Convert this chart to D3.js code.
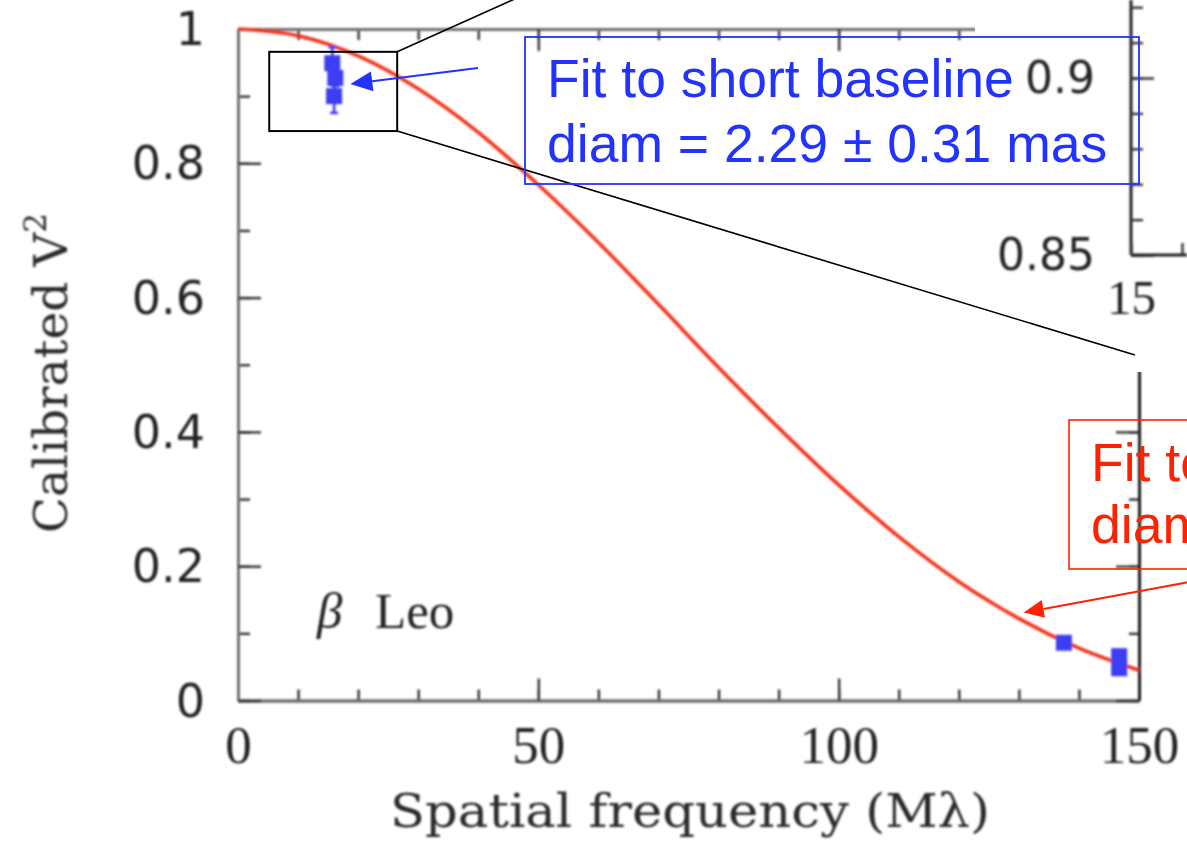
<!DOCTYPE html>
<html>
<head>
<meta charset="utf-8">
<script src="https://cdn.jsdelivr.net/npm/d3@7"></script>
<style>
  html, body { margin: 0; padding: 0; background: #fff; overflow: hidden; }
  svg { display: block; }
</style>
</head>
<body>
<svg id="chart" width="1187" height="841"></svg>
<script>
// Uniform-disk fit to the β Leo visibilities, sampled every 10 Mλ
const fitFreq = [0, 10, 20, 30, 40, 50, 60, 70, 80, 90, 100, 110, 120, 130, 140, 150];
const fitV2   = [1.000, 0.990, 0.960, 0.911, 0.846, 0.768, 0.682, 0.590, 0.496, 0.406, 0.321, 0.244, 0.177, 0.122, 0.078, 0.045];

// Calibrated V² measurements, short baselines
const shortFreq = [15.7, 16.2, 16.0];
const shortV2   = [0.949, 0.927, 0.900];
const shortErr  = [0.024, 0.012, 0.025];

// Calibrated V² measurements, long baselines
const longFreq = [137.5, 146.7, 146.7];
const longV2   = [0.086, 0.066, 0.048];

// Axis ticks and labels
const xMajorTicks = [0, 50, 100, 150];
const xTickLabels = ["0", "50", "100", "150"];
const xMinorTicks = d3.range(0, 151, 10);
const yMajorTicks = [0, 0.2, 0.4, 0.6, 0.8, 1];
const yTickLabels = ["0", "0.2", "0.4", "0.6", "0.8", "1"];
const yMinorTicks = d3.range(0, 11).map(i => i / 10);

// Zoomed inset (short-baseline region)
const zoomFreq = [5.2, 26.5];
const zoomV2   = [0.848, 0.966];
const insetYTicks  = [0.85, 0.9];
const insetYLabels = ["0.85", "0.9"];
const insetYMinor  = d3.range(85, 94).map(i => i / 100);
const insetXTicks  = [15];
const insetXLabels = ["15"];
const insetXMinor  = [15, 15.2];

// Annotation texts
const shortFitText = ["Fit to short baseline", "diam = 2.29 \u00b1 0.31 mas"];
const longFitText  = ["Fit to long baseline", "diam = 1.33 mas"];

const svg = d3.select("#chart");

const defs = svg.append("defs");
defs.append("filter").attr("id", "soft")
  .attr("x", "-5%").attr("y", "-5%").attr("width", "110%").attr("height", "110%")
  .append("feGaussianBlur").attr("stdDeviation", 0.8);

// Scales of the main panel
const x = d3.scaleLinear().domain([0, 150]).range([238, 1139]);
const y = d3.scaleLinear().domain([0, 1]).range([700.5, 29]);

const AXIS_GREY = "#6f6f6f";
const TICK_COL = "#333";

const plot = svg.append("g").attr("filter", "url(#soft)");

function styleAxis(g, domainColor) {
  g.select(".domain").attr("stroke", domainColor).attr("stroke-width", 3);
  g.selectAll(".tick line").attr("stroke", TICK_COL).attr("stroke-width", 2.4);
}

// bottom axis: minor ticks, then major ticks with labels
plot.append("g").attr("transform", `translate(0,${y(0)})`)
  .call(d3.axisBottom(x).tickValues(xMinorTicks).tickSizeInner(-11).tickSizeOuter(0).tickFormat(""))
  .call(g => styleAxis(g, AXIS_GREY));
const xAxisG = plot.append("g").attr("transform", `translate(0,${y(0)})`)
  .call(d3.axisBottom(x).tickValues(xMajorTicks).tickSizeInner(-22).tickSizeOuter(0)
    .tickPadding(25).tickFormat((d, i) => xTickLabels[i]))
  .call(g => styleAxis(g, AXIS_GREY));
xAxisG.selectAll(".tick text")
  .attr("font-family", "'Liberation Serif', serif").attr("font-size", 53).attr("fill", "#222");

// top axis
plot.append("g").attr("transform", `translate(0,${y(1)})`)
  .call(d3.axisTop(x).tickValues(xMinorTicks).tickSizeInner(-11).tickSizeOuter(0).tickFormat(""))
  .call(g => styleAxis(g, AXIS_GREY));
plot.append("g").attr("transform", `translate(0,${y(1)})`)
  .call(d3.axisTop(x).tickValues(xMajorTicks).tickSizeInner(-22).tickSizeOuter(0).tickFormat(""))
  .call(g => styleAxis(g, AXIS_GREY));

// left axis
plot.append("g").attr("transform", `translate(${x(0)},0)`)
  .call(d3.axisLeft(y).tickValues(yMinorTicks).tickSizeInner(-12).tickSizeOuter(0).tickFormat(""))
  .call(g => styleAxis(g, AXIS_GREY));
const yAxisG = plot.append("g").attr("transform", `translate(${x(0)},0)`)
  .call(d3.axisLeft(y).tickValues(yMajorTicks).tickSizeInner(-23).tickSizeOuter(0)
    .tickPadding(33).tickFormat((d, i) => yTickLabels[i]))
  .call(g => styleAxis(g, AXIS_GREY));
yAxisG.selectAll(".tick text")
  .attr("font-family", "'DejaVu Sans', sans-serif").attr("font-size", 46).attr("fill", "#222")
  .attr("dy", "0.34em");

// right axis
plot.append("g").attr("transform", `translate(${x(150)},0)`)
  .call(d3.axisRight(y).tickValues(yMinorTicks).tickSizeInner(-10).tickSizeOuter(0).tickFormat(""))
  .call(g => styleAxis(g, "#1e1e1e"));
plot.append("g").attr("transform", `translate(${x(150)},0)`)
  .call(d3.axisRight(y).tickValues(yMajorTicks).tickSizeInner(-23).tickSizeOuter(0).tickFormat(""))
  .call(g => styleAxis(g, "#1e1e1e"));

// axis titles
plot.append("text")
  .attr("x", 690).attr("y", 827).attr("text-anchor", "middle")
  .attr("font-family", "'DejaVu Serif', serif").attr("font-size", 46).attr("fill", "#2a2a2a")
  .attr("textLength", 600).attr("lengthAdjust", "spacingAndGlyphs")
  .text("Spatial frequency (M\u03bb)");

const yTitle = plot.append("text")
  .attr("transform", "translate(67,373) rotate(-90)").attr("text-anchor", "middle")
  .attr("font-family", "'DejaVu Serif', serif").attr("font-size", 47).attr("fill", "#2a2a2a");
yTitle.append("tspan").text("Calibrated V");
yTitle.append("tspan").attr("font-size", 31).attr("dy", -21).text("2");

// star name
const starLabel = plot.append("text").attr("y", 628)
  .attr("font-family", "'Liberation Serif', serif").attr("font-size", 51).attr("fill", "#222");
starLabel.append("tspan").attr("x", 317).attr("font-style", "italic").text("\u03b2");
starLabel.append("tspan").attr("x", 375).text("Leo");

// fit curve
const fitData = fitFreq.map((f, i) => ({ f, v: fitV2[i] }));
plot.append("path").datum(fitData)
  .attr("fill", "none").attr("stroke", "#f2321c").attr("stroke-width", 3.6)
  .attr("d", d3.line().x(d => x(d.f)).y(d => y(d.v)).curve(d3.curveMonotoneX));

// measurements
const BLUE_PT = "#3d3cf2";
const SQ = 16;
const shortData = shortFreq.map((f, i) => ({ f, v: shortV2[i], e: shortErr[i] }));
const longData = longFreq.map((f, i) => ({ f, v: longV2[i] }));

const errG = plot.append("g").attr("stroke", BLUE_PT).attr("stroke-width", 2.6);
errG.selectAll("line.bar").data(shortData).join("line").attr("class", "bar")
  .attr("x1", d => x(d.f)).attr("x2", d => x(d.f))
  .attr("y1", d => y(d.v - d.e)).attr("y2", d => y(d.v + d.e));
errG.selectAll("line.capT").data(shortData).join("line").attr("class", "capT")
  .attr("x1", d => x(d.f) - 4).attr("x2", d => x(d.f) + 4)
  .attr("y1", d => y(d.v + d.e)).attr("y2", d => y(d.v + d.e));
errG.selectAll("line.capB").data(shortData).join("line").attr("class", "capB")
  .attr("x1", d => x(d.f) - 4).attr("x2", d => x(d.f) + 4)
  .attr("y1", d => y(d.v - d.e)).attr("y2", d => y(d.v - d.e));

plot.append("g").attr("fill", BLUE_PT)
  .selectAll("rect").data(shortData.concat(longData)).join("rect")
  .attr("x", d => x(d.f) - SQ / 2).attr("y", d => y(d.v) - SQ / 2)
  .attr("width", SQ).attr("height", SQ);

// inset panel (zoom of the short-baseline region)
const insetLeft = 1135, insetTop = -280, insetBottom = 355;
svg.append("rect").attr("x", 975).attr("y", 0).attr("width", 212).attr("height", 372).attr("fill", "#fff");

const ix = d3.scaleLinear().domain([15, 15.2]).range([1131, 1182]);
const iy = d3.scaleLinear().domain([0.85, 0.9]).range([255, 78]);
const inset = svg.append("g").attr("filter", "url(#soft)");
inset.append("g").attr("transform", `translate(${ix(15)},0)`)
  .call(d3.axisLeft(iy).tickValues(insetYMinor).tickSizeInner(-12).tickSizeOuter(0).tickFormat(""))
  .call(g => g.select(".domain").attr("d", `M0,0V${iy(0.85)}`))
  .call(g => styleAxis(g, "#1e1e1e"));
const iyAxis = inset.append("g").attr("transform", `translate(${ix(15)},0)`)
  .call(d3.axisLeft(iy).tickValues(insetYTicks).tickSizeInner(-23).tickSizeOuter(0)
    .tickPadding(36).tickFormat((d, i) => insetYLabels[i]))
  .call(g => g.select(".domain").remove())
  .call(g => styleAxis(g, "#1e1e1e"));
iyAxis.selectAll(".tick text")
  .attr("font-family", "'DejaVu Sans', sans-serif").attr("font-size", 44).attr("fill", "#222").attr("dy", "0.34em");
inset.append("g").attr("transform", `translate(0,${iy(0.85)})`)
  .call(d3.axisBottom(ix).tickValues(insetXMinor).tickSizeInner(-12).tickSizeOuter(0).tickFormat(""))
  .call(g => g.select(".domain").attr("d", `M${ix(15)},0H1187`))
  .call(g => styleAxis(g, "#1e1e1e"));
const ixAxis = inset.append("g").attr("transform", `translate(0,${iy(0.85)})`)
  .call(d3.axisBottom(ix).tickValues(insetXTicks).tickSize(0).tickPadding(24)
    .tickFormat((d, i) => insetXLabels[i]))
  .call(g => g.select(".domain").remove());
ixAxis.selectAll(".tick text")
  .attr("font-family", "'Liberation Serif', serif").attr("font-size", 49).attr("fill", "#222");

// zoom box and connector lines
const zx0 = x(zoomFreq[0]), zx1 = x(zoomFreq[1]);
const zy0 = y(zoomV2[1]), zy1 = y(zoomV2[0]);
const over = svg.append("g");
over.append("rect").attr("x", zx0).attr("y", zy0).attr("width", zx1 - zx0).attr("height", zy1 - zy0)
  .attr("fill", "none").attr("stroke", "#000").attr("stroke-width", 2);
over.append("line").attr("x1", zx1).attr("y1", zy0).attr("x2", insetLeft).attr("y2", insetTop)
  .attr("stroke", "#000").attr("stroke-width", 1.6);
over.append("line").attr("x1", zx1).attr("y1", zy1).attr("x2", insetLeft).attr("y2", insetBottom)
  .attr("stroke", "#000").attr("stroke-width", 1.6);

// arrow helper
function arrow(g, x0, y0, x1, y1, color, headLen, headW, width) {
  const ang = Math.atan2(y1 - y0, x1 - x0);
  const bx = x1 - headLen * Math.cos(ang), by = y1 - headLen * Math.sin(ang);
  g.append("line").attr("x1", x0).attr("y1", y0).attr("x2", bx).attr("y2", by)
    .attr("stroke", color).attr("stroke-width", width);
  const px = -Math.sin(ang) * headW / 2, py = Math.cos(ang) * headW / 2;
  g.append("path")
    .attr("d", `M${x1},${y1}L${bx + px},${by + py}L${bx - px},${by - py}Z`)
    .attr("fill", color);
}

// short-baseline annotation
const BLUE_TXT = "#2233ff";
over.append("rect").attr("x", 525).attr("y", 37).attr("width", 614).attr("height", 147)
  .attr("fill", "none").attr("stroke", BLUE_TXT).attr("stroke-width", 1.8);
over.append("g").selectAll("text").data(shortFitText).join("text")
  .attr("x", 547).attr("y", (d, i) => 97 + i * 65)
  .attr("font-family", "'Liberation Sans', Arial, sans-serif").attr("font-size", 53.5)
  .attr("fill", BLUE_TXT).text(d => d);
arrow(over, 478, 68, x(18.7), y(0.918), BLUE_TXT, 22, 20, 2);

// long-baseline annotation (continues past the right edge of the page)
const RED_TXT = "#ff2200";
over.append("rect").attr("x", 1069).attr("y", 420).attr("width", 160).attr("height", 149)
  .attr("fill", "none").attr("stroke", RED_TXT).attr("stroke-width", 1.6);
over.append("g").selectAll("text").data(longFitText).join("text")
  .attr("x", 1091).attr("y", (d, i) => 481 + i * 62)
  .attr("font-family", "'Liberation Sans', Arial, sans-serif").attr("font-size", 53.5)
  .attr("fill", RED_TXT).text(d => d);
arrow(over, 1200, 580, x(130.8), y(0.131), RED_TXT, 20, 18, 2);
</script>
</body>
</html>
